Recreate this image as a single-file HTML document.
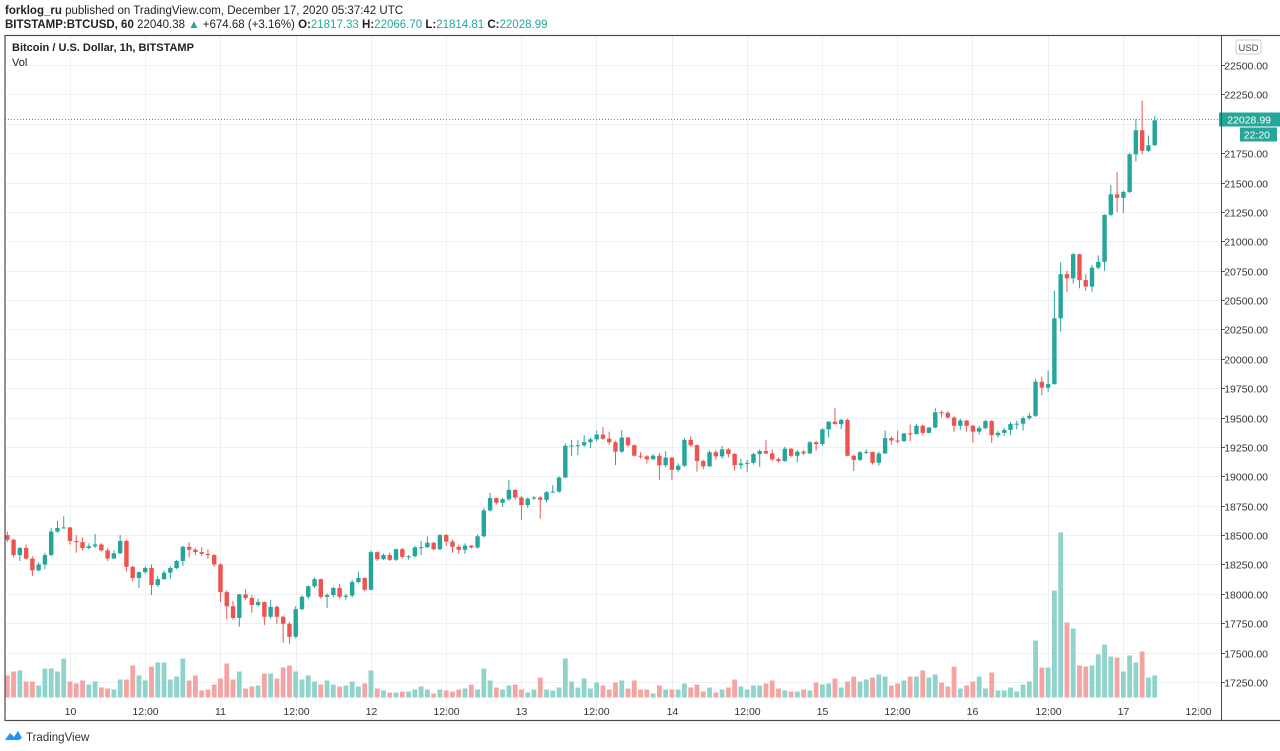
<!DOCTYPE html>
<html><head><meta charset="utf-8"><style>
html,body{margin:0;padding:0;background:#fff;}
svg{display:block;font-family:"Liberation Sans",sans-serif;}
</style></head><body>
<svg id="chart" width="1280" height="751" viewBox="0 0 1280 751" xmlns="http://www.w3.org/2000/svg">
<rect x="0" y="0" width="1280" height="751" fill="#fff"/>
<text x="5" y="14" font-size="11.5" fill="#222"><tspan font-weight="bold">forklog_ru</tspan> published on TradingView.com, December 17, 2020 05:37:42 UTC</text>
<text x="5" y="28" font-size="11.5" fill="#222"><tspan font-weight="bold">BITSTAMP:BTCUSD, 60</tspan> 22040.38 <tspan fill="#26a69a">▲</tspan> +674.68 (+3.16%) <tspan font-weight="bold">O:</tspan><tspan fill="#26a69a">21817.33</tspan> <tspan font-weight="bold">H:</tspan><tspan fill="#26a69a">22066.70</tspan> <tspan font-weight="bold">L:</tspan><tspan fill="#26a69a">21814.81</tspan> <tspan font-weight="bold">C:</tspan><tspan fill="#26a69a">22028.99</tspan></text>
<g id="grid"></g>
<g id="vols"></g>
<g id="candles"></g>
<g id="axes"></g>
<rect x="5" y="35.5" width="1280" height="685" fill="none" stroke="#4a4a4a" stroke-width="1.2"/>
<line x1="1221.5" y1="35" x2="1221.5" y2="721" stroke="#4a4a4a" stroke-width="1"/>
<text x="12" y="51" font-size="11" font-weight="bold" fill="#222">Bitcoin / U.S. Dollar, 1h, BITSTAMP</text>
<text x="12" y="66" font-size="11" fill="#222">Vol</text>
<rect x="1236" y="40" width="25" height="14" rx="2" fill="#fff" stroke="#ccc"/>
<text x="1248.5" y="51" font-size="9.5" text-anchor="middle" fill="#444">USD</text>
<g>
<path d="M5 740 L10 733 L14 737 L18 731 L22 738 L19 740 Z" fill="#2196f3"/>
<text x="26" y="741" font-size="11.5" fill="#333">TradingView</text>
</g>
</svg>
<script>
const closes=[18460,18330,18390,18300,18200,18250,18330,18530,18560,18565,18450,18440,18390,18405,18420,18370,18300,18345,18450,18230,18135,18185,18220,18075,18125,18180,18220,18280,18400,18375,18355,18340,18330,18250,18015,17895,17795,17995,17965,17905,17930,17805,17890,17805,17745,17635,17870,17975,18065,18125,17975,17990,18050,17975,17985,18100,18135,18035,18355,18295,18330,18290,18380,18315,18320,18395,18397,18435,18380,18500,18445,18400,18375,18410,18395,18490,18710,18815,18775,18805,18885,18820,18755,18810,18820,18800,18865,18870,18990,19260,19262,19265,19290,19315,19355,19320,19290,19210,19330,19265,19175,19170,19145,19175,19095,19160,19055,19090,19310,19265,19130,19085,19205,19170,19230,19190,19095,19110,19115,19190,19215,19195,19145,19130,19235,19175,19210,19195,19290,19275,19400,19465,19445,19480,19175,19140,19205,19208,19115,19195,19325,19305,19300,19365,19360,19430,19370,19415,19545,19540,19500,19430,19475,19430,19380,19410,19470,19350,19370,19395,19445,19448,19495,19515,19805,19755,19785,20345,20720,20685,20890,20670,20615,20775,20825,21225,21400,21370,21420,21740,21945,21770,21817,22029];
const firstOpen=18500;
const highs=[18530,18470,18400,18420,18320,18270,18350,18560,18620,18660,18570,18500,18480,18430,18510,18430,18390,18370,18500,18460,18240,18190,18235,18250,18150,18200,18235,18290,18410,18440,18390,18395,18380,18340,18260,18030,17940,18000,18040,17990,17960,17935,17950,17900,17815,17760,17895,17990,18070,18140,18130,18005,18060,18085,18000,18120,18190,18140,18370,18360,18345,18350,18385,18390,18330,18410,18450,18490,18440,18510,18510,18460,18415,18430,18415,18505,18730,18860,18820,18820,18970,18890,18835,18820,18835,18830,18875,18925,19000,19280,19310,19310,19350,19330,19390,19420,19380,19300,19395,19335,19270,19205,19180,19190,19200,19215,19165,19110,19325,19340,19270,19140,19220,19225,19260,19240,19200,19150,19140,19200,19230,19310,19230,19160,19250,19240,19225,19225,19300,19300,19410,19470,19580,19490,19490,19185,19215,19230,19210,19210,19390,19340,19390,19370,19440,19445,19440,19420,19580,19560,19555,19510,19490,19480,19440,19430,19480,19480,19385,19410,19460,19475,19510,19540,19830,19850,19900,20580,20820,20750,20900,20895,20720,20800,20880,21230,21480,21590,21430,21750,22040,22195,21900,22067];
const lows=[18440,18310,18280,18290,18150,18190,18210,18320,18520,18555,18420,18350,18370,18380,18390,18360,18280,18300,18340,18190,18110,18050,18170,17990,18060,18120,18130,18210,18240,18310,18330,18320,18300,18230,17930,17780,17780,17720,17950,17840,17890,17735,17790,17745,17585,17575,17620,17860,17955,18050,17960,17880,17970,17960,17950,17970,18090,18020,18030,18280,18290,18280,18280,18300,18290,18310,18330,18390,18370,18370,18410,18350,18340,18340,18385,18385,18480,18700,18760,18740,18790,18800,18630,18730,18800,18640,18780,18860,18860,18985,19175,19180,19250,19240,19300,19310,19270,19095,19200,19250,19170,19150,19110,19140,18970,19080,18970,19040,19080,19250,19040,19060,19080,19140,19150,19160,19050,19060,19040,19100,19080,19190,19130,19120,19125,19160,19120,19180,19190,19220,19260,19330,19440,19400,19170,19045,19130,19190,19100,19090,19190,19270,19280,19290,19300,19355,19350,19365,19410,19500,19490,19380,19395,19380,19290,19355,19400,19285,19330,19345,19350,19400,19390,19480,19505,19690,19720,19780,20230,20570,20640,20600,20580,20570,20760,20750,21215,21250,21240,21410,21680,21740,21760,21815];
const volumes=[22,26,27,16,16,12,29,29,26,39,16,14,17,13,16,10,9,8,18,18,32,22,17,31,35,35,18,21,39,17,22,7,8,13,19,34,18,26,9,11,12,24,24,19,30,32,26,18,22,16,13,17,13,11,12,16,11,14,27,9,7,5,5,6,6,8,11,8,4,8,7,6,8,9,13,8,29,17,10,8,12,13,8,5,8,20,8,7,10,39,16,10,19,9,15,12,8,15,17,9,17,8,8,4,12,8,8,8,14,10,13,6,10,5,8,10,18,11,8,12,12,14,17,9,7,6,6,8,7,15,13,14,19,10,16,21,16,18,20,23,21,12,14,17,21,21,27,20,23,15,11,31,9,12,16,21,9,25,7,7,10,6,13,16,57,30,30,107,165,75,69,32,31,32,43,53,41,40,26,42,35,46,20,22];
const priceTicks=[17250,17500,17750,18000,18250,18500,18750,19000,19250,19500,19750,20000,20250,20500,20750,21000,21250,21500,21750,22000,22250,22500];
const timeLabels=["10","12:00","11","12:00","12","12:00","13","12:00","14","12:00","15","12:00","16","12:00","17","12:00"];
const lastPrice=22028.99;
const lastTime="22:20";

const NS="http://www.w3.org/2000/svg";
const step=6.27, x0=7.3;
function xOf(i){return x0+i*step;}
function yOf(p){return 682-(p-17250)*29.38/250;}
function vY(v){return 697.5-v;}
function el(tag,attrs,parent){const e=document.createElementNS(NS,tag);for(const k in attrs)e.setAttribute(k,attrs[k]);parent.appendChild(e);return e;}
const grid=document.getElementById('grid'),vols=document.getElementById('vols'),cg=document.getElementById('candles'),axes=document.getElementById('axes');
const ly=Math.round(yOf(lastPrice))-0.5;

priceTicks.forEach(p=>{
  const y=Math.round(yOf(p))+0.5;
  const g=el('line',{x1:5,y1:y,x2:1221,y2:y,stroke:'#eef0f4','stroke-width':1},grid);
  
  
  if(Math.abs(y-ly)<12) return;
  const tk=el('line',{x1:1221,y1:y,x2:1225,y2:y,stroke:'#555'},axes);
  
  
  const t=el('text',{x:1268,y:y+4,'font-size':10.5,'text-anchor':'end',fill:'#333'},axes);
  t.textContent=p.toFixed(2);
  
  
});
timeLabels.forEach((lab,k)=>{
  const x=Math.round(70+k*75.2)+0.5;
  const g=el('line',{x1:x,y1:36,x2:x,y2:720,stroke:'#eef0f4','stroke-width':1},grid);
  
  
  const t=el('text',{x:x,y:715,'font-size':10.5,'text-anchor':'middle',fill:'#333'},axes);
  t.textContent=lab;
  
  
});

closes.forEach((c,i)=>{
  const o=i===0?firstOpen:closes[i-1];
  const up=c>=o;
  const col=up?'#26a69a':'#ef5350';
  const x=xOf(i);
  const v=el('rect',{x:x-2.4,y:vY(volumes[i]),width:4.8,height:volumes[i],fill:up?'#8fd3cb':'#f4a5a3'},vols);
  
  
  const w=el('line',{x1:x,y1:yOf(highs[i]),x2:x,y2:yOf(lows[i]),stroke:col,'stroke-width':1},cg);
  
  
  const yt=yOf(Math.max(o,c)),yb=yOf(Math.min(o,c));
  const b=el('rect',{x:x-2.2,y:yt,width:4.4,height:Math.max(1,yb-yt),fill:col},cg);
  
  
});

const dl=el('line',{x1:5,y1:ly,x2:1221,y2:ly,stroke:'#26a69a','stroke-dasharray':'1,2','stroke-width':1},axes);


const lb=el('rect',{x:1219,y:ly-7,width:61,height:14,fill:'#26a69a'},axes);


const lt=el('text',{x:1271,y:ly+4,'font-size':10.5,'text-anchor':'end',fill:'#fff'},axes);
lt.textContent=lastPrice.toFixed(2);


const tb=el('rect',{x:1240,y:ly+8,width:37,height:14,fill:'#26a69a'},axes);


const tt=el('text',{x:1270,y:ly+19,'font-size':10.5,'text-anchor':'end',fill:'#fff'},axes);
tt.textContent=lastTime;


</script>
</body></html>
